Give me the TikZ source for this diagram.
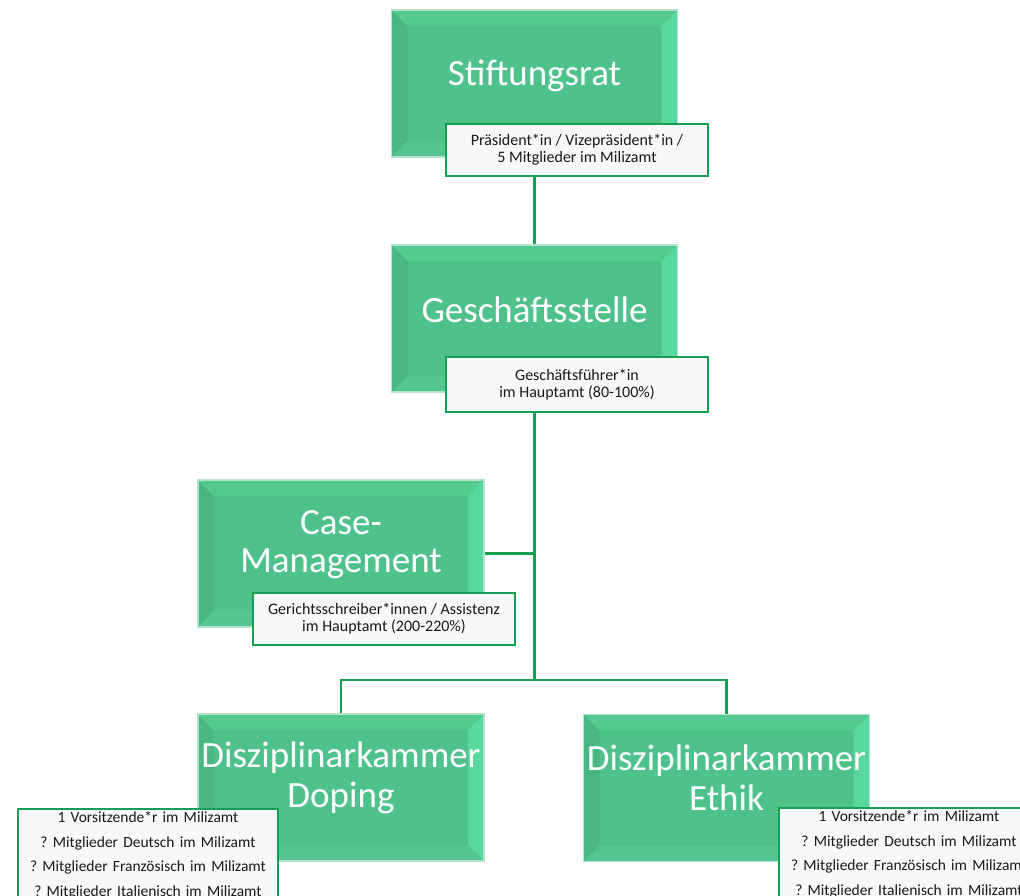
\documentclass[tikz,border=0pt]{standalone}
\usepackage{fontspec}
\setmainfont{Carlito}
\usepackage{xcolor}
\usetikzlibrary{calc,positioning}
\definecolor{boxgreen}{HTML}{4FC28B}
\definecolor{bevdark}{HTML}{4AB682}
\definecolor{bevtop}{HTML}{54CA91}
\definecolor{bevlight}{HTML}{59D89D}
\definecolor{bevbottom}{HTML}{53C78F}
\definecolor{boxrim}{HTML}{B5E2CB}
\definecolor{linegreen}{HTML}{149F52}
\definecolor{notefill}{HTML}{F8F8FB}
\frenchspacing

\begin{document}
\begin{tikzpicture}[x=1pt,y=-1pt,
    unit/.style={draw=boxrim,line width=1.2pt,fill=boxgreen,minimum width=286pt,
      minimum height=147pt,inner sep=0pt,
      path picture={
        \fill[bevdark] (path picture bounding box.north west)
          -- ($(path picture bounding box.north west)+(16pt,-16pt)$)
          -- ($(path picture bounding box.south west)+(16pt,16pt)$)
          -- (path picture bounding box.south west) -- cycle;
        \fill[bevtop] (path picture bounding box.north west)
          -- (path picture bounding box.north east)
          -- ($(path picture bounding box.north east)+(-16pt,-16pt)$)
          -- ($(path picture bounding box.north west)+(16pt,-16pt)$) -- cycle;
        \fill[bevlight] (path picture bounding box.north east)
          -- (path picture bounding box.south east)
          -- ($(path picture bounding box.south east)+(-16pt,16pt)$)
          -- ($(path picture bounding box.north east)+(-16pt,-16pt)$) -- cycle;
        \fill[bevbottom] (path picture bounding box.south west)
          -- ($(path picture bounding box.south west)+(16pt,16pt)$)
          -- ($(path picture bounding box.south east)+(-16pt,16pt)$)
          -- (path picture bounding box.south east) -- cycle;
      }},
    unittext/.style={text=white,align=center,inner sep=0pt,
      font=\fontsize{37}{38}\selectfont},
    note/.style={draw=linegreen,line width=2.4pt,fill=notefill,minimum width=262pt,
      minimum height=52pt,inner sep=1pt,align=center,text=black!90,
      font=\fontsize{16}{17}\selectfont},
    members/.style={draw=linegreen,line width=2.4pt,fill=notefill,text width=256pt,
      inner xsep=2pt,inner ysep=2.5pt,align=center,text=black!90,text depth=86pt,
      font=\fontsize{15.5}{24.5}\selectfont},
    conn/.style={draw=linegreen,line width=2.6pt}]
  \clip (0,0) rectangle (1020,896);

  \node[unit] (stift) at (534.5,83.5) {};
  \node[unit] (gs) at (534.5,318.5) {};
  \node[unit] (case) at (341,553.5) {};
  \node[unit] (doping) at (341,787.5) {};
  \node[unit] (ethik) at (726.5,788) {};

  \coordinate (split) at (534.5,680);
  \draw[conn] (stift |- 0,176) -- (gs.north);
  \draw[conn] (gs |- 0,412) -- (split);
  \draw[conn] (case.east) -- (case.east -| gs);
  \draw[conn] (doping.north) |- (split) -| (ethik.north);

  \node[unittext] (stiftlabel) at ([yshift=8pt]stift.center) {Stiftungsrat};
  \node[unittext] (gslabel) at ([yshift=9pt]gs.center) {Geschäftsstelle};
  \node[unittext] (caselabel) at ([yshift=9pt]case.center) {Case-\\Management};
  \node[unittext,font=\fontsize{37}{40}\selectfont] (dopinglabel)
    at ([yshift=9.5pt]doping.center) {Disziplinarkammer\\Doping};
  \node[unittext,font=\fontsize{37}{40}\selectfont] (ethiklabel)
    at ([yshift=10.5pt]ethik.center) {Disziplinarkammer\\Ethik};

  \node[note] (stiftnote) at (577,150)
    {Präsident*in / Vizepräsident*in /\\5 Mitglieder im Milizamt};
  \node[note,minimum height=55pt] (gsnote) at (577,384.5)
    {Geschäftsführer*in\\im Hauptamt (80-100\%)};
  \node[note] (casenote) at (384,619)
    {Gerichtsschreiber*innen / Assistenz\\im Hauptamt (200-220\%)};

  \node[members,anchor=north] (dopingnote) at (148,808)
    {1 Vorsitzende*r im Milizamt\\? Mitglieder Deutsch im Milizamt\\
     ? Mitglieder Französisch im Milizamt\\? Mitglieder Italienisch im Milizamt};
  \node[members,anchor=north] (ethiknote) at (909,807)
    {1 Vorsitzende*r im Milizamt\\? Mitglieder Deutsch im Milizamt\\
     ? Mitglieder Französisch im Milizamt\\? Mitglieder Italienisch im Milizamt};
\end{tikzpicture}
\end{document}
